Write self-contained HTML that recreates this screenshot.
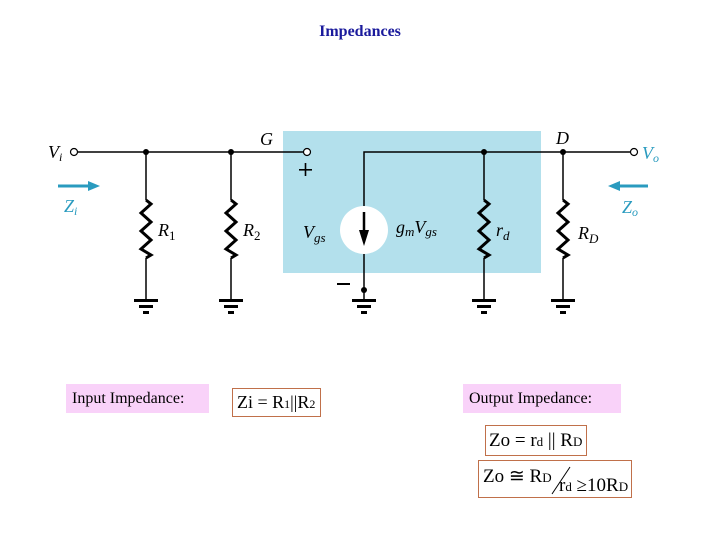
<!DOCTYPE html>
<html><head><style>
body{margin:0;background:#fff;width:720px;height:540px;position:relative;overflow:hidden;font-family:"Liberation Serif",serif}
.t{position:absolute}
</style></head><body>
<div class="t" style="left:0;width:720px;top:23px;text-align:center;font-size:16px;font-weight:bold;color:#1a1a9c">Impedances</div>
<svg width="720" height="540" style="position:absolute;left:0;top:0" font-family="Liberation Serif" font-style="italic">
<rect x="283" y="131" width="258" height="142" fill="#b3e0ec"/>
<g stroke="#000" stroke-width="1.5" fill="none">
<line x1="78" y1="152" x2="303" y2="152"/>
<polyline points="364,300 364,152 630,152"/>
<line x1="146" y1="152" x2="146" y2="200"/><line x1="146" y1="258" x2="146" y2="300"/>
<line x1="231" y1="152" x2="231" y2="200"/><line x1="231" y1="258" x2="231" y2="300"/>
<line x1="484" y1="152" x2="484" y2="200"/><line x1="484" y1="258" x2="484" y2="300"/>
<line x1="563" y1="152" x2="563" y2="200"/><line x1="563" y1="258" x2="563" y2="300"/>
</g>
<g stroke="#000" stroke-width="3" fill="none" stroke-linejoin="miter">
<polyline points="146,200 151,204 141,213 151,222 141,231 151,240 141,249 151,255 146,258"/>
<polyline points="231,200 236,204 226,213 236,222 226,231 236,240 226,249 236,255 231,258"/>
<polyline points="484,200 489,204 479,213 489,222 479,231 489,240 479,249 489,255 484,258"/>
<polyline points="563,200 568,204 558,213 568,222 558,231 568,240 558,249 568,255 563,258"/>
</g>
<circle cx="364" cy="230" r="24" fill="#fff"/>
<line x1="364" y1="212" x2="364" y2="236" stroke="#000" stroke-width="2.5"/>
<polygon points="359,230 369,230 364,246" fill="#000"/>
<g fill="#000">
<circle cx="146" cy="152" r="3"/><circle cx="231" cy="152" r="3"/>
<circle cx="484" cy="152" r="3"/><circle cx="563" cy="152" r="3"/>
<circle cx="364" cy="290" r="3"/>
</g>
<g fill="#000">
<rect x="134" y="299" width="24" height="3"/><rect x="139" y="305" width="14" height="3"/><rect x="143" y="311" width="6" height="3"/>
<rect x="219" y="299" width="24" height="3"/><rect x="224" y="305" width="14" height="3"/><rect x="228" y="311" width="6" height="3"/>
<rect x="352" y="299" width="24" height="3"/><rect x="357" y="305" width="14" height="3"/><rect x="361" y="311" width="6" height="3"/>
<rect x="472" y="299" width="24" height="3"/><rect x="477" y="305" width="14" height="3"/><rect x="481" y="311" width="6" height="3"/>
<rect x="551" y="299" width="24" height="3"/><rect x="556" y="305" width="14" height="3"/><rect x="560" y="311" width="6" height="3"/>
</g>
<circle cx="74" cy="152" r="3.5" fill="#fff" stroke="#000" stroke-width="1.2"/>
<circle cx="307" cy="152" r="3.5" fill="#fff" stroke="#000" stroke-width="1.2"/>
<circle cx="634" cy="152" r="3.5" fill="#fff" stroke="#000" stroke-width="1.2"/>
<g fill="#2a9bbf" stroke="#2a9bbf">
<line x1="58" y1="186" x2="90" y2="186" stroke-width="3"/><polygon points="88,181 100,186 88,191" stroke="none"/>
<line x1="618" y1="186" x2="648" y2="186" stroke-width="3"/><polygon points="620,181 608,186 620,191" stroke="none"/>
</g>
<g font-size="18" fill="#000">
<text x="48" y="158">V<tspan font-size="12" dy="3">i</tspan></text>
<text x="260" y="145">G</text>
<text x="556" y="144">D</text>
<text x="158" y="236">R<tspan font-style="normal" font-size="13" dy="4">1</tspan></text>
<text x="243" y="236">R<tspan font-style="normal" font-size="13" dy="4">2</tspan></text>
<text x="496" y="236">r<tspan font-size="13" dy="4">d</tspan></text>
<text x="578" y="239">R<tspan font-size="13" dy="4">D</tspan></text>
<text x="303" y="238">V<tspan font-size="13" dy="4">gs</tspan></text>
<text x="396" y="233">g<tspan font-size="13" dy="3">m</tspan><tspan dy="-3">V</tspan><tspan font-size="13" dy="3">gs</tspan></text>
</g>
<g font-size="18" fill="#2a9bbf">
<text x="64" y="212">Z<tspan font-size="12" dy="3">i</tspan></text>
<text x="622" y="213">Z<tspan font-size="12" dy="3">o</tspan></text>
<text x="642" y="159">V<tspan font-size="12" dy="3">o</tspan></text>
</g>
<g fill="#000">
<rect x="299" y="169" width="13" height="1.6"/><rect x="304.7" y="163" width="1.6" height="13"/>
<rect x="337" y="283" width="13" height="2"/>
</g>
</svg>
<div class="t" style="left:66px;top:384px;width:143px;height:29px;background:#f9d2f9;font-size:16px;line-height:29px;text-indent:6px">Input Impedance:</div>
<div class="t" style="left:232px;top:388px;width:87px;height:27px;border:1px solid #c0704a;font-size:18px;line-height:27px;text-indent:4px">Zi = R<span style="font-size:12px">1</span>||R<span style="font-size:12px">2</span></div>
<div class="t" style="left:463px;top:384px;width:158px;height:29px;background:#f9d2f9;font-size:16px;line-height:29px;text-indent:6px">Output Impedance:</div>
<div class="t" style="left:485px;top:425px;width:100px;height:29px;border:1px solid #c0704a;font-size:19px;line-height:29px;text-indent:3px">Zo = r<span style="font-size:13px">d</span> || R<span style="font-size:13px">D</span></div>
<div class="t" style="left:478px;top:460px;width:152px;height:36px;border:1px solid #c0704a;font-size:19px">
<span style="position:absolute;left:4px;top:4px">Zo ≅ R<span style="font-size:13px">D</span></span>
<svg style="position:absolute;left:72px;top:4px" width="20" height="30"><line x1="1" y1="29" x2="19" y2="2" stroke="#000" stroke-width="1"/></svg>
<span style="position:absolute;left:80px;top:14px">r<span style="font-size:13px">d</span> ≥10R<span style="font-size:13px">D</span></span>
</div>
</body></html>
